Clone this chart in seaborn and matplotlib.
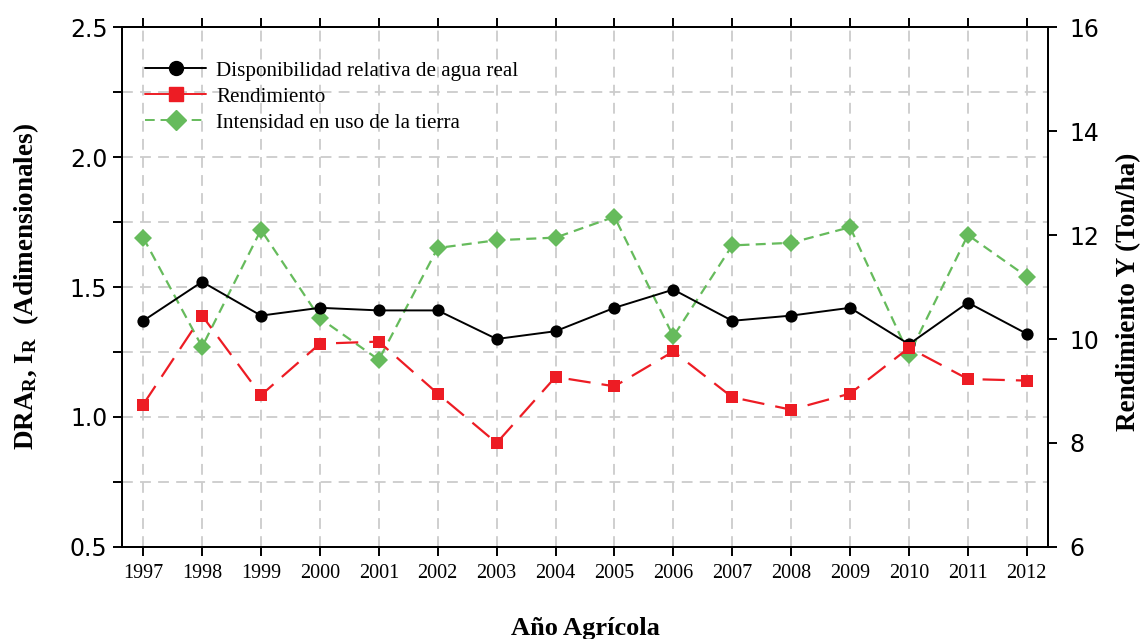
import matplotlib
matplotlib.use("Agg")
import matplotlib.pyplot as plt
from matplotlib.lines import Line2D
import seaborn as sns
import pandas as pd

# Agricultural years
years = [1997, 1998, 1999, 2000, 2001, 2002, 2003, 2004,
         2005, 2006, 2007, 2008, 2009, 2010, 2011, 2012]

# Relative availability of real water (dimensionless)
dra = [1.37, 1.52, 1.39, 1.42, 1.41, 1.41, 1.30, 1.33,
       1.42, 1.49, 1.37, 1.39, 1.42, 1.28, 1.44, 1.32]

# Land-use intensity (dimensionless)
intensidad = [1.69, 1.27, 1.72, 1.38, 1.22, 1.65, 1.68, 1.69,
              1.77, 1.31, 1.66, 1.67, 1.73, 1.24, 1.70, 1.54]

# Yield (Ton/ha)
rendimiento = [8.74, 10.45, 8.92, 9.91, 9.95, 8.95, 8.00, 9.27,
               9.09, 9.76, 8.88, 8.64, 8.95, 9.83, 9.23, 9.20]

left_ticks = [0.5, 1.0, 1.5, 2.0, 2.5]
left_minor = [0.75, 1.25, 1.75, 2.25]
right_ticks = [6, 8, 10, 12, 14, 16]

df = pd.DataFrame({"year": years, "dra": dra, "ir": intensidad, "y": rendimiento})

sns.set_style("white")
plt.rcParams["font.family"] = ["DejaVu Sans"]
plt.rcParams["text.color"] = "black"
plt.rcParams["axes.labelcolor"] = "black"
plt.rcParams["xtick.color"] = "black"
plt.rcParams["ytick.color"] = "black"
plt.rcParams["mathtext.fontset"] = "custom"
plt.rcParams["mathtext.rm"] = "Liberation Serif:bold"
plt.rcParams["mathtext.bf"] = "Liberation Serif:bold"
plt.rcParams["mathtext.it"] = "Liberation Serif:bold"

BLACK = "#000000"
RED = "#ed1c24"
GREEN = "#66bb5c"
GRID = "#cccccc"
SERIF = "Liberation Serif"

fig = plt.figure(figsize=(11.41, 6.39), dpi=100)
ax = fig.add_axes([0.1069, 0.144, 0.8116, 0.8137])
ax2 = ax.twinx()

# Dimensionless indices on the left axis
sns.lineplot(data=df, x="year", y="ir", ax=ax, color=GREEN, lw=1.6,
             marker="D", markersize=9.5, markeredgewidth=0, legend=False)
ax.lines[-1].set_dashes([4.5, 2.8])
sns.lineplot(data=df, x="year", y="dra", ax=ax, color=BLACK, lw=1.4,
             marker="o", markersize=8.8, markeredgewidth=0, legend=False)

# Yield on the right axis
sns.lineplot(data=df, x="year", y="y", ax=ax2, color=RED, lw=1.6,
             marker="s", markersize=8.5, markeredgewidth=0, legend=False)
ax2.lines[-1].set_dashes([10, 5])

ax.set_xlim(years[0] - 0.36, years[-1] + 0.36)
ax.set_ylim(0.5, 2.5)
ax2.set_ylim(6, 16)

ax.set_xticks(years)
ax.set_xticklabels([str(y) for y in years], family=SERIF, fontsize=14.5)
ax.set_yticks(left_ticks)
ax.set_yticklabels([f"{v:.1f}" for v in left_ticks], fontsize=17)
ax.set_yticks(left_minor, minor=True)
ax2.set_yticks(right_ticks)
ax2.set_yticklabels([str(v) for v in right_ticks], fontsize=17)

for a in (ax, ax2):
    for s in a.spines.values():
        s.set_linewidth(1.4)
        s.set_color("black")
ax.tick_params(axis="both", which="both", direction="out", length=6.5, width=1.4,
               color="black", labelcolor="black",
               top=True, bottom=True, left=True, right=False)
ax.tick_params(axis="x", pad=6)
ax.tick_params(axis="y", pad=4)
ax2.tick_params(axis="y", direction="out", length=6.5, width=1.4, color="black",
                labelcolor="black", pad=9)

ax.grid(True, which="both", color=GRID, lw=1.3, ls=(0, (6, 4)))
ax2.grid(False)

ax.set_xlabel("Año Agrícola", family=SERIF, fontweight="bold", fontsize=19,
              va="baseline", color="black")
ax.xaxis.set_label_coords(0.5, -0.169)
ax.set_ylabel(r"DRA$_\mathrm{R}$, I$_\mathrm{R}$  (Adimensionales)",
              family=SERIF, fontweight="bold", fontsize=19.5, va="center", color="black")
ax.yaxis.set_label_coords(-0.1037, 0.5)
ax2.set_ylabel("Rendimiento Y (Ton/ha)", family=SERIF, fontweight="bold",
               fontsize=19.5, va="center", color="black")
ax2.yaxis.set_label_coords(1.0875, 0.49)

handles = [
    Line2D([], [], color=BLACK, lw=1.4, marker="o", markersize=10),
    Line2D([], [], color=RED, lw=1.4, marker="s", markersize=10),
    Line2D([], [], color=GREEN, lw=1.4, marker="D", markersize=10, dashes=[5, 3]),
]
labels = ["Disponibilidad relativa de agua real", "Rendimiento",
          "Intensidad en uso de la tierra"]
ax.legend(handles, labels, loc="upper left", bbox_to_anchor=(0.025, 0.935),
          frameon=False, prop={"family": SERIF, "size": 15.2}, labelcolor="black",
          handlelength=2.9, handletextpad=0.47, labelspacing=0.3,
          borderpad=0, borderaxespad=0)

fig.savefig("out.png", dpi=100)
